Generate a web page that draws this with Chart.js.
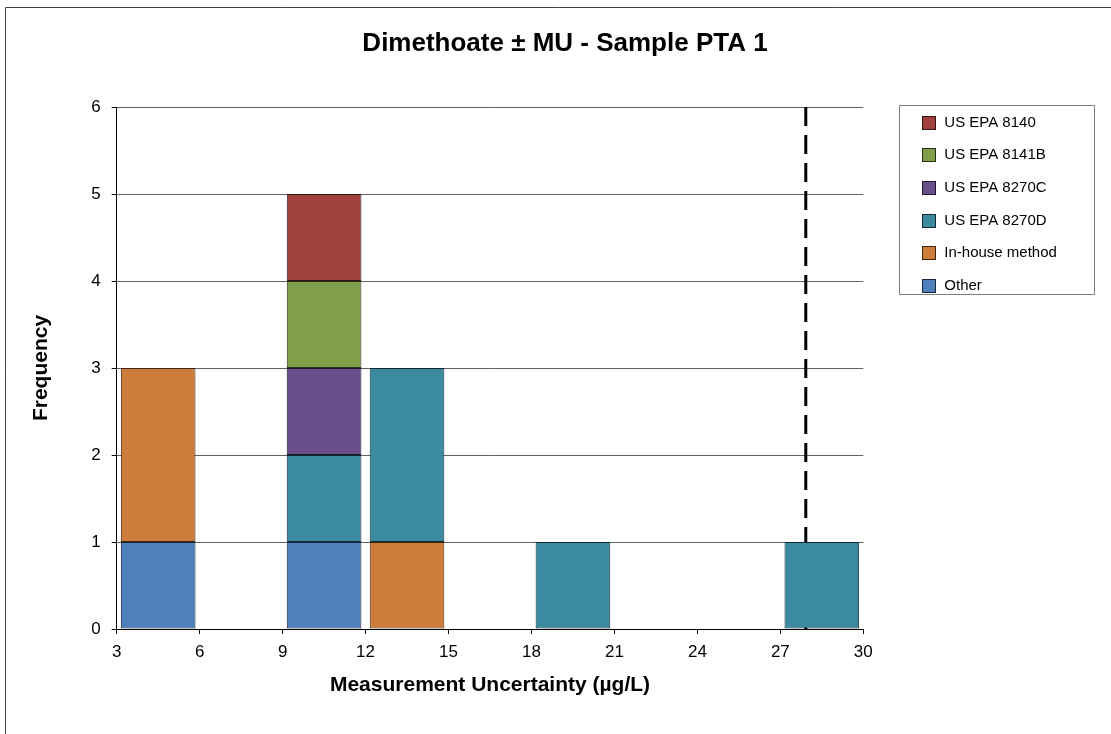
<!DOCTYPE html>
<html>
<head>
<meta charset="utf-8">
<title>Dimethoate ± MU - Sample PTA 1</title>
<script src="https://cdn.jsdelivr.net/npm/chart.js@4.4.1/dist/chart.umd.min.js"></script>
<style>
  html, body { margin: 0; padding: 0; background: #ffffff; }
  #wrap { width: 1111px; height: 734px; }
</style>
</head>
<body>
<div id="wrap"><canvas id="graficoMU" width="1111" height="734"></canvas></div>
<script>
// Classes do histograma (centro de cada intervalo de 3 µg/L)
const centrosClasse = [4.5, 7.5, 10.5, 13.5, 16.5, 19.5, 22.5, 25.5, 28.5];

// Frequências por método (null = sem barra)
const outro       = [1, null, 1, null, null, null, null, null, null];
const interno     = [2, null, null, 1, null, null, null, null, null];
const epa8270D    = [null, null, 1, 2, null, 1, null, null, 1];
const epa8270C    = [null, null, 1, null, null, null, null, null, null];
const epa8141B    = [null, null, 1, null, null, null, null, null, null];
const epa8140     = [null, null, 1, null, null, null, null, null, null];

// Linha tracejada (valor de referência)
const valorRef = 27.92;

const fonte = "'Liberation Sans', Arial, sans-serif";

function pontos(valores) {
    return centrosClasse.map((x, i) => ({ x: x, y: valores[i] }));
}

function serieBarra(label, valores, cor, borda) {
    return {
        type: 'bar',
        label: label,
        data: pontos(valores),
        backgroundColor: cor,
        borderColor: borda,
        borderWidth: 1,
        borderSkipped: false,
        barPercentage: 0.9,
        categoryPercentage: 1.0,
        stack: 'metodos'
    };
}

const dadosHistograma = {
    datasets: [
        serieBarra('Other', outro, '#4e80bc', '#17263a'),
        serieBarra('In-house method', interno, '#cd7d3a', '#3d2511'),
        serieBarra('US EPA 8270D', epa8270D, '#3b8aa0', '#112a31'),
        serieBarra('US EPA 8270C', epa8270C, '#6a508a', '#20182a'),
        serieBarra('US EPA 8141B', epa8141B, '#819f4a', '#273017'),
        serieBarra('US EPA 8140', epa8140, '#a0413e', '#301413'),
        {
            type: 'line',
            label: 'MU',
            data: [{ x: valorRef, y: 6 }, { x: valorRef, y: 0 }],
            borderColor: '#000000',
            borderWidth: 3,
            borderDash: [19, 9],
            pointRadius: 0,
            fill: false,
            stack: 'ref'
        }
    ]
};

// Caixa de legenda à direita, desenhada à mão (estilo Excel)
const legendaLateral = {
    id: 'legendaLateral',
    start(chart) {
        const caixa = {
            position: 'right',
            weight: 0,
            fullSize: false,
            options: { stack: undefined, stackWeight: 1 },
            isHorizontal() { return false; },
            update(maxW, maxH) { this.width = 244.7; this.height = maxH; },
            draw() {
                const ctx = chart.ctx;
                const x0 = this.left + 36;
                const y0 = chart.chartArea.top - 2;
                ctx.save();
                ctx.strokeStyle = '#808080';
                ctx.lineWidth = 1;
                ctx.strokeRect(Math.round(x0) + 0.5, Math.round(y0) + 0.5, 195, 189);
                const series = chart.data.datasets.filter(d => d.type === 'bar').slice().reverse();
                ctx.font = '15px ' + fonte;
                ctx.textBaseline = 'middle';
                ctx.textAlign = 'left';
                series.forEach((d, i) => {
                    const y = y0 + 17.5 + i * 32.7;
                    ctx.fillStyle = d.backgroundColor;
                    ctx.fillRect(Math.round(x0 + 23), Math.round(y - 7), 14, 14);
                    ctx.strokeStyle = d.borderColor;
                    ctx.strokeRect(Math.round(x0 + 23) + 0.5, Math.round(y - 7) + 0.5, 13, 13);
                    ctx.fillStyle = '#000000';
                    ctx.fillText(d.label, x0 + 45, y);
                });
                ctx.restore();
            }
        };
        Chart.layouts.addBox(chart, caixa);
    }
};

// Moldura externa do gráfico
const moldura = {
    id: 'moldura',
    afterDraw(chart) {
        const ctx = chart.ctx;
        ctx.save();
        ctx.strokeStyle = '#404040';
        ctx.lineWidth = 1;
        ctx.beginPath();
        ctx.moveTo(5.5, chart.height);
        ctx.lineTo(5.5, 7.5);
        ctx.lineTo(chart.width, 7.5);
        ctx.stroke();
        ctx.restore();
    }
};

const graficoMU = new Chart(
    document.getElementById('graficoMU'),
    {
        type: 'bar',
        data: dadosHistograma,
        plugins: [legendaLateral, moldura],
        options: {
            responsive: false,
            animation: false,
            layout: { padding: { left: 22, right: 3, top: 10, bottom: 10 } },
            plugins: {
                legend: { display: false },
                tooltip: { enabled: false },
                title: {
                    display: true,
                    text: 'Dimethoate ± MU - Sample PTA 1',
                    color: '#000000',
                    font: { family: fonte, size: 26, weight: 'bold' },
                    padding: { top: 18.4, bottom: 47.4 }
                }
            },
            scales: {
                x: {
                    type: 'linear',
                    min: 3,
                    max: 30,
                    offset: false,
                    stacked: true,
                    afterFit(s) { s.height = 95; },
                    ticks: {
                        stepSize: 3,
                        padding: 8,
                        color: '#000000',
                        font: { family: fonte, size: 17 }
                    },
                    grid: { offset: false, drawOnChartArea: false, drawTicks: true, tickLength: 5, color: '#000000' },
                    border: { display: true, color: '#000000', width: 1 },
                    title: {
                        display: true,
                        text: 'Measurement Uncertainty (µg/L)',
                        color: '#000000',
                        font: { family: fonte, size: 21, weight: 'bold' },
                        padding: { top: 0, bottom: 26.4 }
                    }
                },
                y: {
                    min: 0,
                    max: 6,
                    stacked: true,
                    afterFit(s) { s.width = 94.7; },
                    ticks: {
                        stepSize: 1,
                        padding: 11,
                        color: '#000000',
                        font: { family: fonte, size: 17 }
                    },
                    grid: { color: '#606060', tickColor: '#000000', tickLength: 5, lineWidth: 1 },
                    border: { display: true, color: '#000000', width: 1 },
                    title: {
                        display: true,
                        text: 'Frequency',
                        color: '#000000',
                        font: { family: fonte, size: 21, weight: 'bold' },
                        padding: { top: 6.4, bottom: 0 }
                    }
                }
            }
        }
    }
);
</script>
</body>
</html>
